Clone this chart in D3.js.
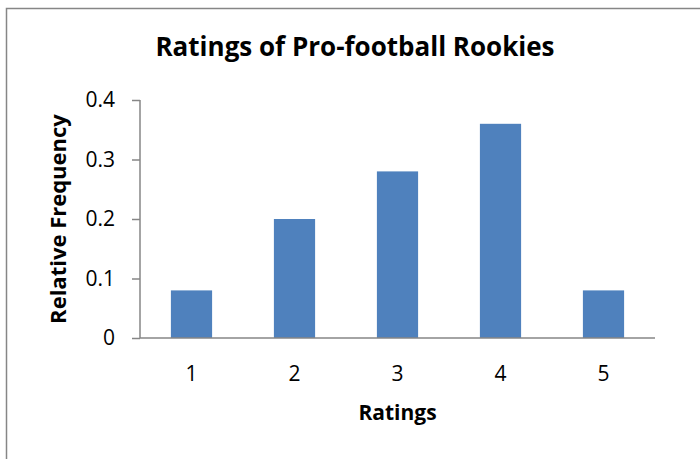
<!DOCTYPE html>
<html>
<head>
<meta charset="utf-8">
<script src="https://cdn.jsdelivr.net/npm/d3@7"></script>
<style>
  body { margin: 0; background: #fff; }
  text { font-family: "Open Sans", "Lato", sans-serif; fill: #000; }
</style>
</head>
<body>
<svg width="700" height="459"></svg>
<script>
const ratings = ["1", "2", "3", "4", "5"];
const relFreq = [0.08, 0.20, 0.28, 0.36, 0.08];
const yTicks = [0, 0.1, 0.2, 0.3, 0.4];

const svg = d3.select("svg");
const plot = {left: 140, right: 655, top: 100, bottom: 338};

// chart frame (right + bottom edges fall outside the picture)
svg.append("rect")
  .attr("x", 6.5).attr("y", 8.5)
  .attr("width", 720).attr("height", 480)
  .attr("fill", "#fff")
  .attr("stroke", "#868686")
  .attr("stroke-width", 1.5);

let x = d3.scaleBand()
  .domain(ratings)
  .range([plot.left, plot.right])
  .paddingInner(0.6).paddingOuter(0.3);

let y = d3.scaleLinear()
  .domain([0, 0.4])
  .range([plot.bottom, plot.top]);

// bars
svg.selectAll("rect.bar")
  .data(relFreq)
  .enter()
  .append("rect")
  .attr("class", "bar")
  .attr("x", (d, i) => x(ratings[i]))
  .attr("y", d => y(d))
  .attr("width", x.bandwidth())
  .attr("height", d => y(0) - y(d))
  .attr("fill", "#4F81BD");

// y axis
let yAxis = svg.append("g")
  .attr("transform", `translate(${plot.left},0)`)
  .call(d3.axisLeft(y).tickValues(yTicks).tickSize(8).tickPadding(17)
    .tickFormat(d => d === 0 ? "0" : d3.format(".1f")(d)));
yAxis.select(".domain").attr("stroke", "#868686").attr("stroke-width", 1.5)
  .attr("d", `M0,${plot.top}V${plot.bottom}`);
yAxis.selectAll(".tick line").attr("stroke", "#868686").attr("stroke-width", 1.5);
yAxis.selectAll(".tick text")
  .attr("font-size", 21)
  .attr("font-family", "Open Sans")
  .attr("fill", "#000");

// x axis: just a baseline and labels
let xAxis = svg.append("g")
  .attr("transform", `translate(0,${plot.bottom})`)
  .call(d3.axisBottom(x).tickSize(0).tickPadding(28).tickSizeOuter(0));
xAxis.select(".domain").attr("stroke", "#868686").attr("stroke-width", 1.5)
  .attr("d", `M${plot.left},0H${plot.right}`);
xAxis.selectAll(".tick text")
  .attr("font-size", 21)
  .attr("font-family", "Open Sans")
  .attr("fill", "#000");

// titles
svg.append("text")
  .attr("x", 355).attr("y", 56)
  .attr("text-anchor", "middle")
  .attr("font-size", 26).attr("font-weight", "bold")
  .text("Ratings of Pro-football Rookies");

svg.append("text")
  .attr("x", (plot.left + plot.right) / 2).attr("y", 420)
  .attr("text-anchor", "middle")
  .attr("font-size", 21).attr("font-weight", "bold")
  .text("Ratings");

svg.append("text")
  .attr("transform", `translate(66,${(plot.top + plot.bottom) / 2}) rotate(-90)`)
  .attr("text-anchor", "middle")
  .attr("font-size", 22).attr("font-weight", "bold")
  .text("Relative Frequency");
</script>
</body>
</html>
